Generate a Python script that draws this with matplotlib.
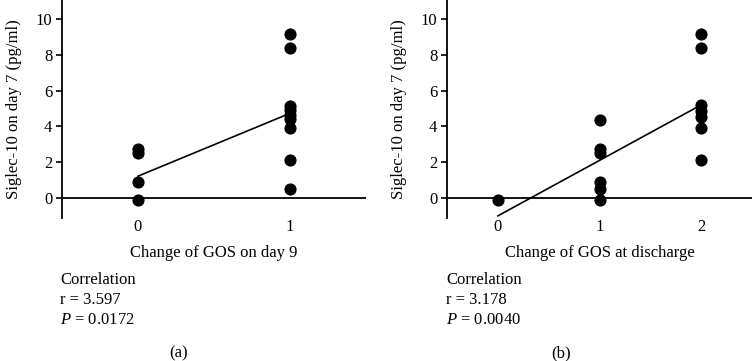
import matplotlib
matplotlib.use('Agg')
import matplotlib.pyplot as plt

plt.rcParams['font.family'] = 'Liberation Serif'
plt.rcParams['font.size'] = 12
plt.rcParams['mathtext.fontset'] = 'custom'
plt.rcParams['mathtext.it'] = 'Liberation Serif:italic'
plt.rcParams['mathtext.rm'] = 'Liberation Serif'

# panel (a): Change of GOS on day 9
xa = [0, 0, 0, 0, 1, 1, 1, 1, 1, 1, 1, 1, 1]
ya = [2.74, 2.51, 0.88, -0.1, 9.14, 8.36, 5.14, 4.92, 4.64, 4.41, 3.89, 2.12, 0.49]
fit_xa = [0, 1]
fit_ya = [1.22, 4.73]

# panel (b): Change of GOS at discharge
xb = [0, 1, 1, 1, 1, 1, 1, 2, 2, 2, 2, 2, 2, 2]
yb = [-0.1, 4.33, 2.74, 2.51, 0.88, 0.5, -0.1, 9.14, 8.36, 5.18, 4.85, 4.5, 3.89, 2.14]
fit_xb = [0, 2]
fit_yb = [-1.0, 5.2]

panels = [
    dict(x=xa, y=ya, fx=fit_xa, fy=fit_ya, xt=[0, 1], xlim=(-0.5, 1.5),
         xlabel='Change of GOS on day 9', r='3.597', p='0.0172', tag='(a)',
         rect=[62 / 752, 0.396, 304 / 752, 0.604], tx=60, cx=179),
    dict(x=xb, y=yb, fx=fit_xb, fy=fit_yb, xt=[0, 1, 2], xlim=(-0.5, 2.5),
         xlabel='Change of GOS at discharge', r='3.178', p='0.0040', tag='(b)',
         rect=[447 / 752, 0.396, 305 / 752, 0.604], tx=446, cx=561),
]

fig = plt.figure(figsize=(7.52, 3.61), dpi=100)

for pn in panels:
    ax = fig.add_axes(pn['rect'])
    ax.set_xlim(*pn['xlim'])
    ax.set_ylim(-1.12, 11.06)
    for s in ['top', 'right', 'bottom']:
        ax.spines[s].set_visible(False)
    ax.spines['left'].set_linewidth(1.3)
    ax.axhline(0, color='black', lw=1.3)
    ax.scatter(pn['x'], pn['y'], s=60, c='black', zorder=3, clip_on=False)
    ax.plot(pn['fx'], pn['fy'], c='black', lw=1.2)
    ax.set_yticks([0, 2, 4, 6, 8, 10])
    ax.set_xticks(pn['xt'])
    ax.tick_params(axis='y', length=4, width=1.2, pad=3)
    ax.tick_params(axis='x', length=0, pad=1)
    ax.set_xlabel(pn['xlabel'], labelpad=7)
    ax.set_ylabel('Siglec-10 on day 7 (pg/ml)', labelpad=10)

    # correlation text
    fig.text(pn['tx'] / 752, 1 - 280 / 361, 'Correlation', va='center', ha='left')
    fig.text(pn['tx'] / 752, 1 - 300 / 361, 'r = ' + pn['r'], va='center', ha='left')
    fig.text(pn['tx'] / 752, 1 - 320 / 361, '$P$ = ' + pn['p'], va='center', ha='left')
    fig.text(pn['cx'] / 752, 1 - 353 / 361, pn['tag'], va='center', ha='center')

plt.savefig('out.png', dpi=100)
